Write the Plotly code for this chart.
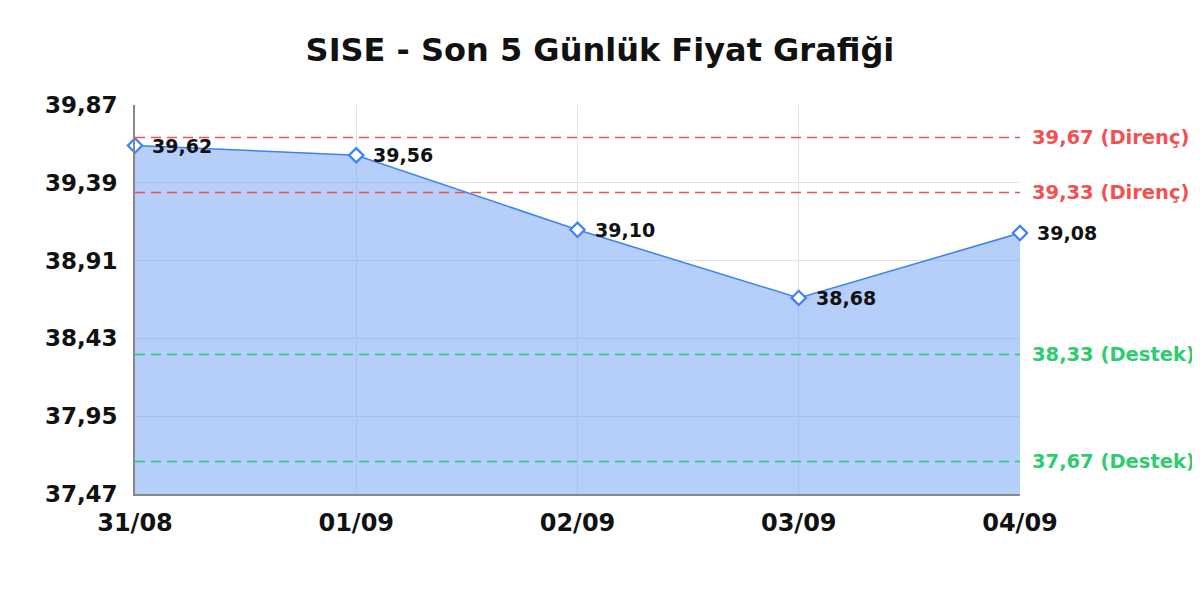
import plotly.graph_objects as go

TITLE = "SISE - Son 5 Günlük Fiyat Grafiği"

dates = ["31/08", "01/09", "02/09", "03/09", "04/09"]
prices = [39.62, 39.56, 39.10, 38.68, 39.08]

resistance = [39.67, 39.33]
support = [38.33, 37.67]

y_ticks = [37.47, 37.95, 38.43, 38.91, 39.39, 39.87]

FONT = "DejaVu Sans"
RED = "#f05252"
GREEN = "#2ecc71"
BLUE = "#3b82f6"


def fmt(v):
    return f"{v:.2f}".replace(".", ",")


fig = go.Figure()
fig.add_trace(go.Scatter(
    x=dates, y=prices,
    mode="lines+markers",
    fill="tozeroy",
    fillcolor="rgba(120,165,245,0.55)",
    line=dict(color=BLUE, width=1.5),
    marker=dict(symbol="diamond", size=11, color="white", line=dict(color=BLUE, width=2.2)),
    cliponaxis=False,
    hoverinfo="skip",
    showlegend=False,
))

for d, p in zip(dates, prices):
    fig.add_annotation(x=d, y=p, text=fmt(p), showarrow=False,
                       xanchor="left", yanchor="middle", xshift=15, yshift=0,
                       font=dict(family=FONT, size=19, color="#111", weight="bold"))

# destek / direnç seviyeleri
for lvl, color, kind in [(r, RED, "Direnç") for r in resistance] + [(s, GREEN, "Destek") for s in support]:
    fig.add_shape(type="line", xref="paper", x0=0, x1=1, yref="y", y0=lvl, y1=lvl,
                  line=dict(color=color, width=1.5, dash="10px,6px"))
    fig.add_annotation(xref="paper", x=1, y=lvl, text=f"{fmt(lvl)} ({kind})",
                       showarrow=False, xanchor="left", yanchor="middle", xshift=10,
                       font=dict(family=FONT, size=19.5, color=color, weight="bold"))

fig.update_layout(
    title=dict(text=TITLE, x=0.4933, xanchor="center", y=0.93, yanchor="middle",
               font=dict(family=FONT, size=32, color="#111", weight="bold")),
    width=1200, height=600,
    margin=dict(l=127, r=188, t=97, b=114),
    plot_bgcolor="white", paper_bgcolor="white",
    font=dict(family=FONT),
)
fig.update_xaxes(
    range=[0, len(dates) - 1], type="category",
    showgrid=True, gridcolor="#e3e3e3", gridwidth=1,
    showline=True, linecolor="#888", linewidth=1.5,
    ticks="", ticklabelstandoff=6,
    tickfont=dict(family=FONT, size=24, color="#111", weight="bold"),
)
fig.update_yaxes(
    range=[y_ticks[0], y_ticks[-1]],
    tickvals=y_ticks, ticktext=[fmt(v) for v in y_ticks],
    showgrid=True, gridcolor="#e3e3e3", gridwidth=1,
    showline=True, linecolor="#888", linewidth=1.5, zeroline=False,
    ticks="", ticklabelstandoff=11,
    tickfont=dict(family=FONT, size=23, color="#111", weight="bold"),
)

fig.write_html("out.html")
